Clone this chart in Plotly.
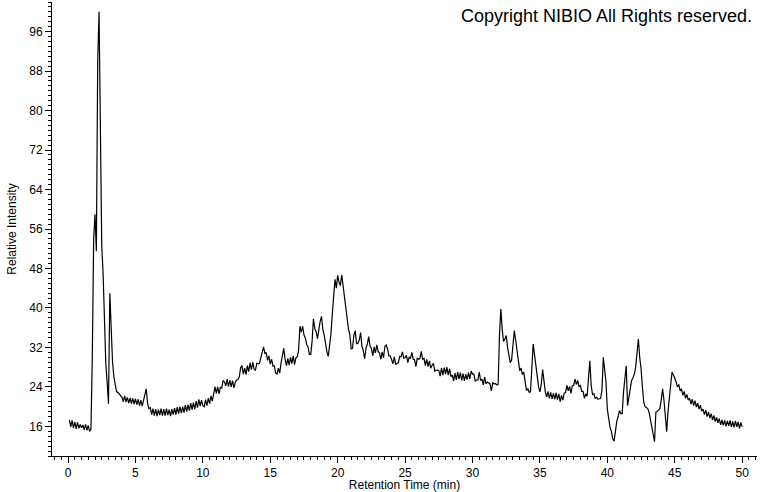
import numpy as np
import plotly.graph_objects as go

# sampling of the trace: first point and interval (min)
T_START = 0.1
T_STEP = 0.1

# relative intensity, one row per minute
intensity = [
    17.3, 15.9, 17.2, 15.7, 16.9, 15.5, 16.8, 15.6, 16.4, 15.7,   # 0.1 - 1.0
    16.3, 15.3, 16.4, 15.2, 16.2, 15.0, 15.4, 30.0, 54.0, 59.0,   # 1.1 - 2.0
    51.5, 90.0, 100.0, 70.0, 52.5, 47.0, 36.0, 28.8, 25.0, 20.6,  # 2.1 - 3.0
    43.0, 35.0, 29.0, 26.0, 24.8, 23.0, 22.9, 22.5, 22.2, 21.9,   # 3.1 - 4.0
    21.0, 22.2, 20.9, 21.9, 20.7, 21.8, 20.6, 21.7, 20.5, 21.6,   # 4.1 - 5.0
    20.4, 21.5, 20.2, 21.3, 20.1, 21.2, 22.3, 23.6, 20.6, 19.6,   # 5.1 - 6.0
    19.8, 18.4, 19.6, 18.2, 19.5, 18.1, 19.4, 18.3, 19.6, 18.2,   # 6.1 - 7.0
    19.5, 18.2, 19.6, 18.3, 19.4, 18.1, 19.5, 18.4, 19.7, 18.4,   # 7.1 - 8.0
    19.9, 18.6, 20.0, 18.7, 20.0, 18.8, 20.3, 19.0, 20.4, 19.2,   # 8.1 - 9.0
    20.7, 19.4, 20.8, 19.5, 21.1, 19.8, 21.5, 20.1, 21.3, 20.2,   # 9.1 - 10.0
    20.0, 21.4, 20.2, 21.7, 20.6, 22.2, 21.1, 22.6, 24.0, 22.7,   # 10.1 - 11.0
    24.0, 22.6, 23.9, 23.8, 25.3, 25.0, 24.2, 25.6, 24.1, 25.4,   # 11.1 - 12.0
    24.0, 25.3, 23.8, 24.9, 25.4, 25.5, 26.0, 27.9, 28.3, 26.6,   # 12.1 - 13.0
    27.8, 26.5, 28.3, 27.1, 28.9, 27.5, 29.0, 27.6, 27.4, 28.8,   # 13.1 - 14.0
    28.7, 28.8, 29.8, 31.3, 32.1, 30.8, 30.9, 29.4, 30.3, 28.6,   # 14.1 - 15.0
    29.6, 28.2, 28.3, 26.8, 26.6, 27.8, 26.8, 28.9, 30.2, 31.8,   # 15.1 - 16.0
    29.6, 28.3, 29.8, 28.4, 30.0, 28.7, 30.3, 28.5, 29.9, 30.1,   # 16.1 - 17.0
    31.4, 36.3, 35.1, 36.3, 34.5, 33.9, 32.6, 32.1, 30.6, 30.6,   # 17.1 - 18.0
    33.2, 37.8, 35.8, 35.2, 33.8, 36.0, 37.3, 38.3, 35.6, 34.5,   # 18.1 - 19.0
    32.6, 31.1, 30.2, 32.8, 34.7, 38.8, 43.6, 45.8, 44.0, 46.6,   # 19.1 - 20.0
    45.2, 44.5, 46.7, 44.6, 42.2, 39.5, 38.4, 35.7, 34.6, 31.7,   # 20.1 - 21.0
    31.8, 34.5, 35.4, 32.7, 32.9, 33.5, 35.0, 32.2, 31.3, 29.7,   # 21.1 - 22.0
    31.9, 32.7, 34.2, 32.3, 31.8, 30.3, 32.1, 30.9, 32.5, 31.2,   # 22.1 - 23.0
    30.9, 29.6, 31.1, 29.9, 32.2, 32.5, 31.7, 30.3, 30.3, 29.3,   # 23.1 - 24.0
    28.7, 30.1, 28.5, 28.8, 28.9, 30.2, 30.1, 31.1, 29.8, 29.9,   # 24.1 - 25.0
    30.4, 28.9, 30.0, 29.8, 31.0, 29.6, 29.5, 28.1, 29.8, 29.6,   # 25.1 - 26.0
    29.8, 31.2, 29.6, 29.8, 28.3, 29.6, 28.1, 29.3, 27.8, 28.4,   # 26.1 - 27.0
    28.8, 27.2, 27.4, 27.4, 27.3, 26.2, 27.8, 26.4, 27.9, 26.6,   # 27.1 - 28.0
    28.0, 26.4, 27.7, 26.1, 26.4, 25.2, 26.8, 25.4, 27.0, 25.6,   # 28.1 - 29.0
    26.9, 25.3, 26.7, 25.2, 26.6, 25.5, 26.9, 25.6, 27.2, 26.6,   # 29.1 - 30.0
    26.6, 25.2, 25.4, 25.4, 27.0, 25.3, 25.6, 24.4, 26.0, 24.6,   # 30.1 - 31.0
    25.0, 24.8, 24.6, 23.2, 24.9, 24.6, 24.7, 24.4, 24.5, 34.4,   # 31.1 - 32.0
    39.8, 35.7, 33.2, 33.7, 34.4, 32.0, 30.0, 28.9, 29.5, 32.8,   # 32.1 - 33.0
    35.4, 33.5, 31.4, 29.0, 27.3, 27.8, 26.5, 27.0, 25.0, 23.3,   # 33.1 - 34.0
    23.6, 22.9, 23.0, 28.0, 32.7, 30.5, 28.3, 26.0, 24.0, 23.0,   # 34.1 - 35.0
    24.5, 27.5, 25.0, 23.0, 22.0, 23.1, 21.7, 22.9, 21.6, 22.7,   # 35.1 - 36.0
    21.5, 22.8, 21.4, 22.6, 21.0, 22.3, 21.3, 22.7, 22.9, 24.3,   # 36.1 - 37.0
    23.2, 24.1, 22.7, 24.2, 24.3, 25.6, 24.5, 25.3, 24.1, 24.3,   # 37.1 - 38.0
    23.1, 23.1, 21.7, 22.6, 22.1, 25.5, 29.3, 24.3, 22.5, 22.6,   # 38.1 - 39.0
    21.7, 21.9, 21.5, 21.6, 21.7, 23.3, 30.0, 27.5, 25.0, 19.5,   # 39.1 - 40.0
    17.2, 15.8, 15.0, 13.5, 13.0, 15.5, 17.0, 18.0, 19.2, 18.6,   # 40.1 - 41.0
    18.6, 23.0, 26.0, 28.3, 20.2, 22.0, 23.8, 25.3, 25.8, 26.6,   # 41.1 - 42.0
    28.0, 30.5, 33.7, 30.0, 27.7, 24.0, 20.9, 20.0, 19.8, 19.6,   # 42.1 - 43.0
    18.8, 17.5, 16.2, 14.5, 12.9, 18.9, 19.0, 19.3, 19.6, 21.5,   # 43.1 - 44.0
    23.6, 21.3, 18.0, 14.9, 19.0, 22.3, 24.5, 27.0, 26.5, 25.8,   # 44.1 - 45.0
    25.0, 24.0, 24.5, 23.2, 23.6, 22.3, 23.1, 21.7, 22.5, 21.3,   # 45.1 - 46.0
    21.7, 20.5, 21.5, 20.2, 21.2, 19.9, 20.7, 19.5, 20.3, 19.1,   # 46.1 - 47.0
    19.5, 18.4, 19.3, 18.0, 18.9, 17.7, 18.6, 17.3, 18.2, 17.0,   # 47.1 - 48.0
    17.8, 16.7, 17.6, 16.3, 17.3, 16.2, 17.2, 16.0, 17.1, 16.1,   # 48.1 - 49.0
    17.2, 15.9, 17.0, 15.8, 17.1, 15.9, 16.9, 15.6, 16.8, 15.9,   # 49.1 - 50.0
]

x_ticks = [0, 5, 10, 15, 20, 25, 30, 35, 40, 45, 50]
y_ticks = [16, 24, 32, 40, 48, 56, 64, 72, 80, 88, 96]

retention_time = T_START + T_STEP * np.arange(len(intensity))

FONT = "Liberation Sans, Arial, sans-serif"

fig = go.Figure()
fig.add_trace(go.Scatter(
    x=retention_time,
    y=intensity,
    mode="lines",
    line=dict(color="black", width=1.2),
    showlegend=False,
    hoverinfo="skip",
))

fig.update_layout(
    width=760,
    height=492,
    margin=dict(l=52, r=3, t=2, b=36),
    paper_bgcolor="white",
    plot_bgcolor="white",
    font=dict(family=FONT, size=12, color="black"),
)

fig.update_xaxes(
    range=[-1.19, 51.1],
    tickvals=x_ticks,
    ticks="outside",
    ticklen=6,
    tickcolor="black",
    showline=True,
    linecolor="black",
    linewidth=1,
    showgrid=False,
    zeroline=False,
    automargin=False,
    minor=dict(dtick=0.5, tick0=0, ticks="outside", ticklen=3, tickcolor="black", showgrid=False),
    title=dict(text="Retention Time (min)", font=dict(size=12), standoff=4),
)

fig.update_yaxes(
    range=[10, 102],
    tickvals=y_ticks,
    ticks="outside",
    ticklen=6,
    tickcolor="black",
    showline=True,
    linecolor="black",
    linewidth=1,
    showgrid=False,
    zeroline=False,
    automargin=False,
    minor=dict(dtick=1, tick0=0, ticks="outside", ticklen=3, tickcolor="black", showgrid=False),
    title=dict(text="Relative Intensity", font=dict(size=12), standoff=10),
)

# copyright note in the top right corner
fig.add_annotation(
    text="Copyright NIBIO All Rights reserved.",
    xref="paper", yref="paper",
    x=1, y=1,
    xanchor="right", yanchor="top",
    xshift=-3, yshift=-2,
    showarrow=False,
    font=dict(family=FONT, size=18, color="black"),
)

# the page's default body margin would shift the figure by 8px
fig.write_html(
    "out.html",
    config={"displayModeBar": False},
    post_script="document.body.style.margin = '0';",
)
